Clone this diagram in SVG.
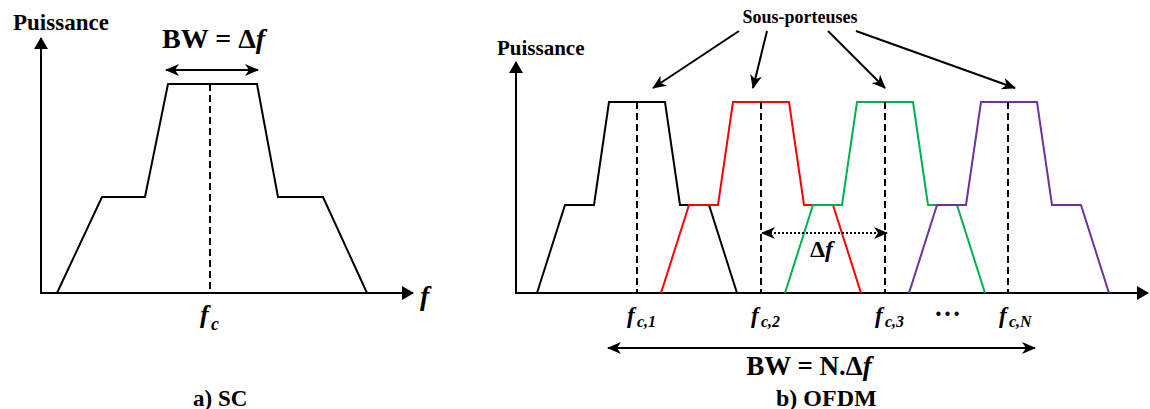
<svg xmlns="http://www.w3.org/2000/svg" width="1150" height="409" viewBox="0 0 1150 409">
<style>
  .ax{stroke:#000;stroke-width:2;fill:none}
  .sh{stroke-width:2;fill:none;stroke-linejoin:miter}
  .dash{stroke:#000;stroke-width:2;stroke-dasharray:7,4;fill:none}
  .lbl{font-family:'Liberation Serif','Times New Roman',serif;font-weight:bold;fill:#000}
  .it{font-style:italic}
  .arr{stroke:#000;stroke-width:2;fill:none}
</style>
<defs>
  <marker id="tri" markerUnits="userSpaceOnUse" viewBox="0 0 12 14" markerWidth="12" markerHeight="14" refX="11" refY="7" orient="auto-start-reverse">
    <path d="M0,0 L12,7 L0,14 z" fill="#000"/>
  </marker>
  <marker id="stealth" markerUnits="userSpaceOnUse" viewBox="0 0 14 12" markerWidth="14" markerHeight="12" refX="13" refY="6" orient="auto-start-reverse">
    <path d="M0,0 L14,6 L0,12 L4,6 z" fill="#000"/>
  </marker>
</defs>

<!-- Panel a) SC -->
<g id="sc-axes">
  <line class="ax" x1="41" y1="293" x2="41" y2="38" marker-end="url(#tri)"/>
  <line class="ax" x1="40" y1="293" x2="413" y2="293" marker-end="url(#tri)"/>
  <text class="lbl" x="13" y="30" font-size="23">Puissance</text>
  <text class="lbl it" x="420" y="305" font-size="28">f</text>
</g>
<g id="sc-spectrum">
  <polyline class="sh" stroke="#000" points="57,293 102,197 145,197 168,84 257,84 278,197 323,197 367,293"/>
  <line class="dash" x1="210" y1="84" x2="210" y2="293"/>
  <text class="lbl" font-size="26"><tspan class="it" x="200" y="323">f</tspan><tspan class="it" x="211" y="330" font-size="18">c</tspan></text>
</g>
<g id="sc-bw">
  <line class="arr" x1="166" y1="70" x2="258" y2="70" marker-start="url(#stealth)" marker-end="url(#stealth)"/>
  <text class="lbl" x="162" y="48" font-size="28">BW = Δ<tspan class="it">f</tspan></text>
</g>
<text id="caption-a" class="lbl" x="193" y="406" font-size="23">a) SC</text>

<!-- Panel b) OFDM -->
<g id="ofdm-axes">
  <line class="ax" x1="516" y1="293" x2="516" y2="62" marker-end="url(#tri)"/>
  <line class="ax" x1="515" y1="293" x2="1148" y2="293" marker-end="url(#tri)"/>
  <text class="lbl" x="497" y="55" font-size="21">Puissance</text>
</g>
<g id="sub1">
  <polyline class="sh" stroke="#000" points="537,293 565,205 594,205 609,102 665,102 680,205 709,205 737,293"/>
  <line class="dash" x1="637" y1="102" x2="637" y2="293"/>
  <text class="lbl" font-size="23"><tspan class="it" x="627" y="323">f</tspan><tspan class="it" x="637" y="327" font-size="16">c,1</tspan></text>
</g>
<g id="sub2">
  <polyline class="sh" stroke="#FF0000" points="661,293 689,205 718,205 733,102 789,102 804,205 833,205 861,293"/>
  <line class="dash" x1="761" y1="102" x2="761" y2="293"/>
  <text class="lbl" font-size="23"><tspan class="it" x="751" y="323">f</tspan><tspan class="it" x="761" y="327" font-size="16">c,2</tspan></text>
</g>
<g id="sub3">
  <polyline class="sh" stroke="#00B050" points="785,293 813,205 842,205 857,102 913,102 928,205 957,205 985,293"/>
  <line class="dash" x1="885" y1="102" x2="885" y2="293"/>
  <text class="lbl" font-size="23"><tspan class="it" x="875" y="323">f</tspan><tspan class="it" x="885" y="327" font-size="16">c,3</tspan></text>
</g>
<text id="ellipsis" class="lbl" x="934" y="316" font-size="27">…</text>
<g id="subN">
  <polyline class="sh" stroke="#7030A0" points="909,293 937,205 966,205 981,102 1037,102 1052,205 1081,205 1109,293"/>
  <line class="dash" x1="1008" y1="102" x2="1008" y2="293"/>
  <text class="lbl" font-size="23"><tspan class="it" x="999" y="323">f</tspan><tspan class="it" x="1009" y="327" font-size="16">c,N</tspan></text>
</g>
<g id="sous-porteuses">
  <text class="lbl" x="800" y="23" font-size="18" text-anchor="middle">Sous-porteuses</text>
</g>
<g id="connectors">
  <line class="arr" x1="739" y1="31" x2="653" y2="88" marker-end="url(#stealth)"/>
  <line class="arr" x1="767" y1="31" x2="753" y2="88" marker-end="url(#stealth)"/>
  <line class="arr" x1="828" y1="31" x2="885" y2="88" marker-end="url(#stealth)"/>
  <line class="arr" x1="856" y1="31" x2="1015" y2="88" marker-end="url(#stealth)"/>
  <line class="arr" x1="762" y1="233" x2="887" y2="233" stroke-dasharray="2,2" marker-start="url(#stealth)" marker-end="url(#stealth)"/>
  <line class="arr" x1="608" y1="348" x2="1035" y2="348" marker-start="url(#stealth)" marker-end="url(#stealth)"/>
</g>
<g id="labels-b">
  <text class="lbl" x="810" y="257" font-size="24">Δ<tspan class="it">f</tspan></text>
  <text class="lbl" x="809" y="375" font-size="27" text-anchor="middle">BW = N.Δ<tspan class="it">f</tspan></text>
  <text id="caption-b" class="lbl" x="776" y="406" font-size="24">b) OFDM</text>
</g>
</svg>
